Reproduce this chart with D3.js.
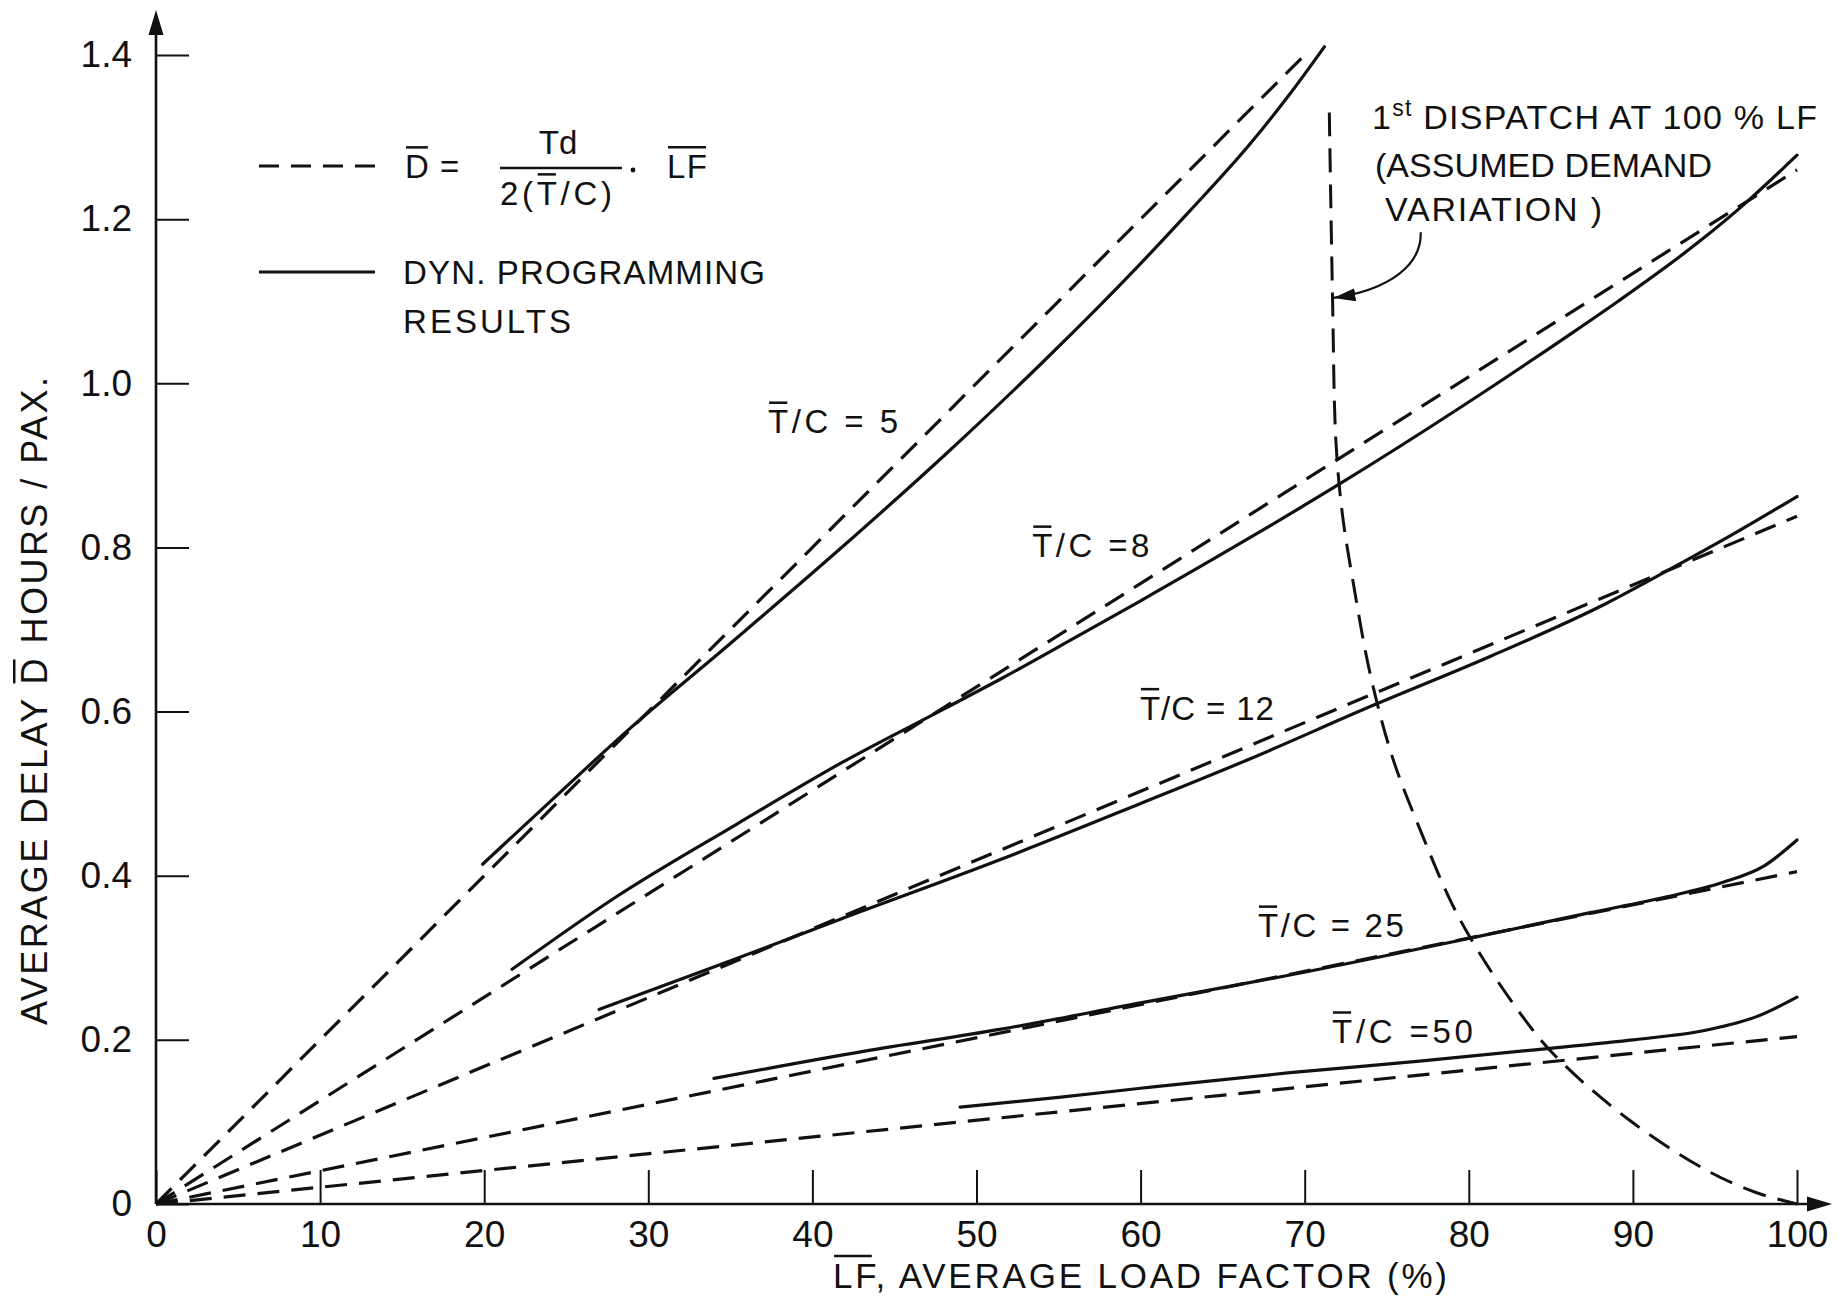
<!DOCTYPE html>
<html>
<head>
<meta charset="utf-8">
<script src="https://cdn.jsdelivr.net/npm/d3@7"></script>
<style>
    html, body { margin: 0; padding: 0; background: #fff; }
    svg text { font-family: "Liberation Sans", Arial, sans-serif; fill: #111; }
</style>
</head>
<body>
<div id="chart"></div>
<script>
// axis ticks
const lfTicks = [0, 10, 20, 30, 40, 50, 60, 70, 80, 90, 100];
const delayTicks = [0, 0.2, 0.4, 0.6, 0.8, 1.0, 1.2, 1.4];
const tcRatios = ['5', '8', '12', '25', '50'];

// D = Td / (2 T/C) * LF  (straight dashed lines)
const formula5 = [[0, 0], [70, 1.40]];
const formula8 = [[0, 0], [100, 1.26]];
const formula12 = [[0, 0], [100, 0.838]];
const formula25 = [[0, 0], [100, 0.405]];
const formula50 = [[0, 0], [100, 0.204]];

// dynamic programming results (solid)
const dynProg5 = [[19.9, 0.414], [24, 0.49], [28.8, 0.578], [35, 0.683], [41.9, 0.802], [48.2, 0.915],
    [54, 1.025], [59, 1.125], [63, 1.21], [66.6, 1.29], [69, 1.35], [71.2, 1.41]];
const dynProg8 = [[21.7, 0.286], [28.1, 0.375], [35.4, 0.463], [41.9, 0.539], [48, 0.603], [51.5, 0.64],
    [56, 0.69], [60, 0.735], [66.5, 0.81], [72.1, 0.877], [79.6, 0.972], [85.9, 1.056], [89.1, 1.10],
    [94, 1.172], [97, 1.222], [100, 1.278]];
const dynProg12 = [[27, 0.237], [35.1, 0.297], [41.7, 0.347], [51.5, 0.42], [60, 0.488], [66.5, 0.541],
    [74.1, 0.607], [81.4, 0.668], [88.4, 0.732], [92.4, 0.775], [96, 0.815], [100, 0.862]];
const dynProg25 = [[34, 0.153], [43.1, 0.186], [51.5, 0.213], [60, 0.245], [69.1, 0.279], [80.1, 0.324],
    [87.4, 0.355], [92, 0.374], [95.5, 0.392], [98, 0.412], [100, 0.4435]];
const dynProg50 = [[49, 0.118], [55, 0.13], [60, 0.141], [69.1, 0.16], [77, 0.174], [85.1, 0.19],
    [90, 0.2], [94.5, 0.212], [97.5, 0.228], [100, 0.252]];

// 1st dispatch at 100% LF
const dispatchCurve = [[71.5, 1.33], [71.7, 1.10], [71.9, 0.93], [72.3, 0.84], [73, 0.752], [74, 0.645],
    [75.4, 0.541], [77.2, 0.448], [78.8, 0.373], [80.1, 0.324], [82.5, 0.25], [85.1, 0.184],
    [89.8, 0.102], [94.5, 0.041], [97.5, 0.014], [100, 0]];

const formulas = [formula5, formula8, formula12, formula25, formula50];
const dynProgs = [dynProg5, dynProg8, dynProg12, dynProg25, dynProg50];

// label anchors (LF, D) and widths
const labelAt = [[37.3, 0.939], [53.4, 0.788], [59.96, 0.59], [67.15, 0.325], [71.66, 0.196]];
const labelWidth = [130, 117, 134, 146, 141];
const labelSep = [' = ', ' =', ' = ', ' = ', ' ='];
// pointer from annotation to dispatch curve (cubic: start, c1, c2, end)
const pointer = [[77.07, 1.184], [77.13, 1.144], [75.18, 1.114], [71.75, 1.104]];

const W = 1847, H = 1303;
const margin = { top: 55, right: 50, bottom: 99, left: 156 };
const ink = '#111';

const svg = d3.select('#chart').append('svg')
    .attr('width', W).attr('height', H)
    .style('display', 'block').style('background', '#fff');

const x = d3.scaleLinear().domain([0, 100]).range([margin.left, W - margin.right]);
const y = d3.scaleLinear().domain([0, 1.4]).range([H - margin.bottom, margin.top]);

// text with overbars on selected parts
function barText(parent, parts, tx, ty, size, length) {
    const t = parent.append('text').attr('x', tx).attr('y', ty).style('font-size', size + 'px');
    parts.forEach(p => {
        const s = t.append('tspan').text(p.t);
        if (p.dy) s.attr('dy', p.dy);
        if (p.size) s.style('font-size', p.size + 'px');
    });
    if (length) t.attr('textLength', length);
    const node = t.node();
    let idx = 0;
    parts.forEach(p => {
        if (p.bar) {
            const a = node.getExtentOfChar(idx);
            const b = node.getExtentOfChar(idx + p.t.length - 1);
            const by = ty - size * 0.716 - 7;
            parent.append('line')
                .attr('x1', a.x + 1).attr('x2', b.x + b.width - 1)
                .attr('y1', by).attr('y2', by)
                .attr('stroke', ink).attr('stroke-width', 2.5);
        }
        idx += p.t.length;
    });
    return t;
}

// axes
const xAxis = d3.axisBottom(x).tickValues(lfTicks).tickSize(-34).tickPadding(17)
    .tickFormat(d3.format('d'));
const yAxis = d3.axisLeft(y).tickValues(delayTicks).tickSize(-33).tickPadding(24)
    .tickFormat(d => d === 0 ? '0' : d3.format('.1f')(d));

const gx = svg.append('g').attr('transform', `translate(0,${y(0)})`).call(xAxis);
const gy = svg.append('g').attr('transform', `translate(${x(0)},0)`).call(yAxis);
[gx, gy].forEach(g => {
    g.select('.domain').remove();
    g.selectAll('.tick line').attr('stroke', ink).attr('stroke-width', 2);
    g.selectAll('.tick text').style('font-size', '37px')
        .style('font-family', '"Liberation Sans", Arial, sans-serif').attr('fill', ink);
});

// axis lines with arrowheads
const yTop = y(1.4) - 45, xEnd = x(100) + 35;
svg.append('line').attr('x1', x(0)).attr('x2', x(0)).attr('y1', y(0)).attr('y2', yTop + 20)
    .attr('stroke', ink).attr('stroke-width', 2.6);
svg.append('path').attr('d', `M${x(0) - 7.5},${yTop + 25}L${x(0)},${yTop}L${x(0) + 7.5},${yTop + 25}Z`).attr('fill', ink);
svg.append('line').attr('x1', x(0)).attr('x2', xEnd - 20).attr('y1', y(0)).attr('y2', y(0))
    .attr('stroke', ink).attr('stroke-width', 2.6);
svg.append('path').attr('d', `M${xEnd - 25},${y(0) - 7.5}L${xEnd},${y(0)}L${xEnd - 25},${y(0) + 7.5}Z`).attr('fill', ink);

// axis titles
barText(svg, [{ t: 'LF', bar: true }, { t: ', AVERAGE LOAD FACTOR (%)' }], 833, 1288, 35, 614);
const gyt = svg.append('g').attr('transform', `translate(47,${(377 + 1025) / 2}) rotate(-90)`);
barText(gyt, [{ t: 'AVERAGE DELAY ' }, { t: 'D', bar: true }, { t: ' HOURS / PAX.' }], -324, 0, 36, 648);

// curves
const line = d3.line().x(d => x(d[0])).y(d => y(d[1]));
const smooth = d3.line().x(d => x(d[0])).y(d => y(d[1])).curve(d3.curveMonotoneX);

svg.append('g').selectAll('path').data(formulas).join('path')
    .attr('d', line).attr('fill', 'none').attr('stroke', ink)
    .attr('stroke-width', 3.2).attr('stroke-dasharray', '22,12');

svg.append('g').selectAll('path').data(dynProgs).join('path')
    .attr('d', smooth).attr('fill', 'none').attr('stroke', ink)
    .attr('stroke-width', 3.2).attr('stroke-linecap', 'round');

svg.append('path').datum(dispatchCurve)
    .attr('d', d3.line().x(d => x(d[0])).y(d => y(d[1])).curve(d3.curveCatmullRom.alpha(0.5)))
    .attr('fill', 'none').attr('stroke', ink).attr('stroke-width', 3).attr('stroke-dasharray', '24,12');

// curve labels
tcRatios.forEach((r, i) => {
    barText(svg, [{ t: 'T', bar: true }, { t: '/C' + labelSep[i] + r }],
        x(labelAt[i][0]), y(labelAt[i][1]), 33, labelWidth[i]);
});

// annotation
barText(svg, [{ t: '1' }, { t: 'st', size: 23, dy: -13 }, { t: ' DISPATCH AT 100 % LF', dy: 13 }], 1372, 129, 34, 445);
barText(svg, [{ t: '(ASSUMED DEMAND' }], 1375, 177, 34, 337);
barText(svg, [{ t: 'VARIATION )' }], 1385, 221, 34, 217);

const defs = svg.append('defs');
defs.append('marker').attr('id', 'head').attr('viewBox', '0 0 22 13')
    .attr('refX', 22).attr('refY', 6.5).attr('markerWidth', 22).attr('markerHeight', 13)
    .attr('markerUnits', 'userSpaceOnUse').attr('orient', 'auto')
    .append('path').attr('d', 'M0,0L22,6.5L0,13Z').attr('fill', ink);

const pp = pointer.map(d => [x(d[0]), y(d[1])]);
svg.append('path')
    .attr('d', `M${pp[0]}C${pp[1]} ${pp[2]} ${pp[3]}`)
    .attr('fill', 'none').attr('stroke', ink).attr('stroke-width', 2.2)
    .attr('marker-end', 'url(#head)');

// legend
const lg = svg.append('g');
lg.append('line').attr('x1', 259).attr('x2', 375).attr('y1', 166).attr('y2', 166)
    .attr('stroke', ink).attr('stroke-width', 3).attr('stroke-dasharray', '20,12');
lg.append('line').attr('x1', 259).attr('x2', 375).attr('y1', 272).attr('y2', 272)
    .attr('stroke', ink).attr('stroke-width', 3);
barText(lg, [{ t: 'D', bar: true }], 405, 178, 33);
barText(lg, [{ t: '=' }], 440, 178, 33);
lg.append('text').attr('x', 558).attr('y', 154).attr('text-anchor', 'middle').style('font-size', '33px').text('Td');
lg.append('line').attr('x1', 500).attr('x2', 622).attr('y1', 168).attr('y2', 168)
    .attr('stroke', ink).attr('stroke-width', 2.5);
barText(lg, [{ t: '2(' }, { t: 'T', bar: true }, { t: '/C)' }], 500, 205, 33, 112);
lg.append('circle').attr('cx', 633).attr('cy', 170).attr('r', 2.4).attr('fill', ink);
barText(lg, [{ t: 'LF', bar: true }], 667, 178, 33, 40);
barText(lg, [{ t: 'DYN. PROGRAMMING' }], 403, 284, 33, 362);
barText(lg, [{ t: 'RESULTS' }], 403, 333, 33, 168);
</script>
</body>
</html>
